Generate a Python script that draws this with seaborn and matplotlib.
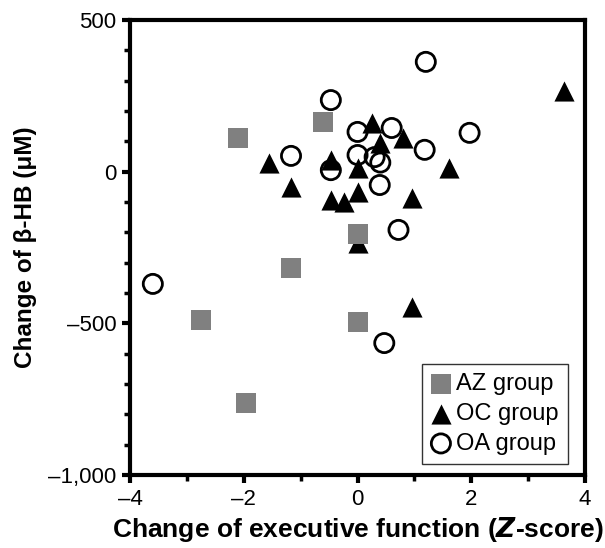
import matplotlib
matplotlib.use("Agg")
import matplotlib.pyplot as plt
import matplotlib.ticker as mticker
import seaborn as sns

# AZ group (grey squares)
az_x = [-2.1, -0.6, 0.0, -1.17, -2.75, 0.0, -1.96]
az_y = [110, 165, -205, -318, -490, -497, -763]

# OC group (black triangles)
oc_x = [3.63, 0.25, 0.8, 0.4, -1.55, -0.47, 0.0, 1.6, -1.17, 0.0, -0.47, -0.24, 0.95, 0.0, 0.95]
oc_y = [265, 160, 112, 95, 30, 38, 12, 12, -50, -67, -93, -100, -87, -235, -445]

# OA group (open circles)
oa_x = [1.2, -0.47, 0.6, 0.0, 1.97, -1.17, 0.0, 1.18, 0.3, 0.4, -0.47, 0.39, 0.72, -3.6, 0.47]
oa_y = [362, 236, 144, 131, 128, 52, 55, 72, 48, 30, 5, -44, -192, -370, -565]

sns.set_style("ticks", {'axes.edgecolor': 'black', 'text.color': 'black',
                        'axes.labelcolor': 'black', 'xtick.color': 'black',
                        'ytick.color': 'black'})
plt.rcParams['font.family'] = ['Liberation Sans', 'DejaVu Sans']

fig = plt.figure(figsize=(6.05, 5.48), dpi=100)
ax = fig.add_axes([0.215, 0.1332, 0.752, 0.8303])

# draw triangles first, squares over them, open circles last
sns.scatterplot(x=oc_x, y=oc_y, marker='^', s=210, color='black', linewidth=0,
                label='OC group', ax=ax, zorder=3)
sns.scatterplot(x=az_x, y=az_y, marker='s', s=200, color='#808080', linewidth=0,
                label='AZ group', ax=ax, zorder=4)
sns.scatterplot(x=oa_x, y=oa_y, marker='o', s=190, color='black', edgecolor='black',
                linewidth=2, label='OA group', ax=ax, zorder=5)
ax.collections[-1].set_facecolor('none')

ax.set_xlim(-4, 4)
ax.set_ylim(-1000, 500)
ax.xaxis.set_major_locator(mticker.MultipleLocator(2))
ax.xaxis.set_minor_locator(mticker.MultipleLocator(1))
ax.yaxis.set_major_locator(mticker.MultipleLocator(500))
ax.yaxis.set_minor_locator(mticker.MultipleLocator(100))


def fmt(v, pos):
    s = f"{abs(v):,.0f}"
    return ("\u2013" + s) if v < 0 else s


ax.xaxis.set_major_formatter(mticker.FuncFormatter(fmt))
ax.yaxis.set_major_formatter(mticker.FuncFormatter(fmt))

for sp in ax.spines.values():
    sp.set_linewidth(3)
    sp.set_visible(True)
ax.tick_params(which='major', direction='out', length=6, width=3, labelsize=16, pad=4,
               colors='black')
ax.tick_params(which='minor', direction='out', length=4, width=2.5, colors='black')

ax.set_xlabel('Change of executive function ($\\boldsymbol{Z}$-score)', fontsize=19,
              fontweight='bold', labelpad=4, color='black')
ax.set_ylabel('Change of \u03b2-HB (\u03bcM)', fontsize=17.5, fontweight='bold', labelpad=8,
              color='black')

# legend order: AZ, OC, OA
handles, labels = ax.get_legend_handles_labels()
order = [1, 0, 2]
leg = ax.legend([handles[i] for i in order], [labels[i] for i in order],
                loc='lower right', bbox_to_anchor=(0.963, 0.024), borderaxespad=0,
                fontsize=17, frameon=True, fancybox=False, edgecolor='black',
                handletextpad=0.25, borderpad=0.4, labelspacing=0.33, handlelength=0.8)
leg.get_frame().set_linewidth(1)
for t in leg.get_texts():
    t.set_color('black')

fig.savefig('out.png', dpi=100)
